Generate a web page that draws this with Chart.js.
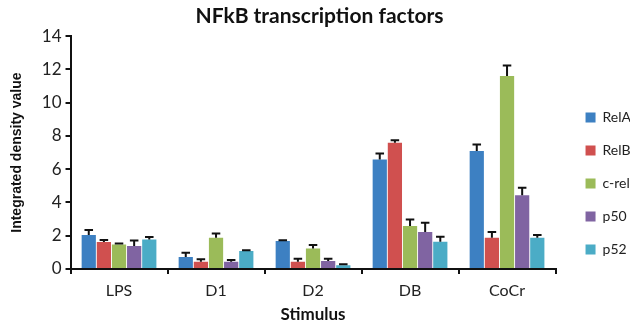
<!DOCTYPE html>
<html>
<head>
<meta charset="utf-8">
<script src="https://cdn.jsdelivr.net/npm/chart.js@4/dist/chart.umd.min.js"></script>
<style>
  html, body { margin: 0; padding: 0; background: #fff; }
</style>
</head>
<body>
<canvas id="myChart" width="630" height="323"></canvas>
<script>
var stimuli = ["LPS", "D1", "D2", "DB", "CoCr"];
var seriesNames = ["RelA", "RelB", "c-rel", "p50", "p52"];

// mean values per series (one per stimulus)
var relA = [2.04, 0.72, 1.68, 6.59, 7.09];
var relB = [1.62, 0.44, 0.44, 7.59, 1.88];
var cRel = [1.48, 1.88, 1.24, 2.58, 11.6];
var p50 = [1.38, 0.44, 0.48, 2.22, 4.43];
var p52 = [1.78, 1.08, 0.22, 1.64, 1.88];

// upper error (SD) per series
var relAErr = [0.31, 0.26, 0.05, 0.36, 0.40];
var relBErr = [0.13, 0.14, 0.18, 0.16, 0.34];
var cRelErr = [0.05, 0.26, 0.20, 0.40, 0.64];
var p50Err = [0.34, 0.10, 0.14, 0.56, 0.46];
var p52Err = [0.14, 0.05, 0.06, 0.30, 0.16];

var yTicks = [0, 2, 4, 6, 8, 10, 12, 14];

var barColors = ["#3d80c2", "#d0504f", "#9bbb59", "#8064a2", "#4bacc6"];
var values = [relA, relB, cRel, p50, p52];
var errors = [relAErr, relBErr, cRelErr, p50Err, p52Err];

var fontName = "Lato, 'Open Sans', sans-serif";

// upward error bars with a cap
var errorBars = {
    id: "errorBars",
    afterDatasetsDraw: function (chart) {
        var ctx = chart.ctx;
        var y = chart.scales.y;
        ctx.save();
        ctx.strokeStyle = "#111";
        ctx.lineWidth = 2;
        chart.data.datasets.forEach(function (ds, i) {
            var meta = chart.getDatasetMeta(i);
            meta.data.forEach(function (bar, j) {
                var top = y.getPixelForValue(ds.data[j] + ds.err[j]);
                var cap = bar.width * 0.3;
                ctx.beginPath();
                ctx.moveTo(bar.x, bar.y);
                ctx.lineTo(bar.x, top);
                ctx.moveTo(bar.x - cap, top);
                ctx.lineTo(bar.x + cap, top);
                ctx.stroke();
            });
        });
        ctx.restore();
    }
};

// nudge the legend to where it sits in the figure
var legendShift = {
    id: "legendShift",
    afterLayout: function (chart) {
        var lg = chart.legend;
        lg.left += 11; lg.right += 11;
        lg.top += 22; lg.bottom += 22;
    }
};

new Chart("myChart", {
    type: "bar",
    data: {
        labels: stimuli,
        datasets: seriesNames.map(function (name, i) {
            return {
                label: name,
                data: values[i],
                err: errors[i],
                backgroundColor: barColors[i],
                categoryPercentage: 0.78,
                barPercentage: 0.94
            };
        })
    },
    options: {
        responsive: false,
        animation: false,
        layout: { padding: { left: 9, right: 0, top: 0, bottom: 0 } },
        plugins: {
            title: {
                display: true,
                text: "NFkB transcription factors",
                font: { family: fontName, size: 21, weight: "bold" },
                color: "#111",
                padding: { top: 4, bottom: 7 }
            },
            legend: {
                position: "right",
                maxWidth: 78,
                labels: {
                    boxWidth: 10,
                    boxHeight: 10,
                    padding: 19,
                    color: "#222",
                    font: { family: fontName, size: 14 }
                }
            },
            tooltip: { enabled: false }
        },
        scales: {
            x: {
                border: { color: "#111", width: 2 },
                grid: { drawOnChartArea: false, color: "#111", tickLength: 5, lineWidth: 2 },
                ticks: { color: "#222", font: { family: fontName, size: 16, lineHeight: 1 }, padding: 9 },
                title: {
                    display: true,
                    text: "Stimulus",
                    color: "#111",
                    font: { family: fontName, size: 17, weight: "bold", lineHeight: 1 },
                    padding: { top: -2, bottom: 0 }
                }
            },
            y: {
                min: 0,
                max: 14,
                afterBuildTicks: function (axis) {
                    axis.ticks = yTicks.map(function (v) { return { value: v }; });
                },
                border: { color: "#111", width: 2 },
                grid: { drawOnChartArea: false, color: "#111", tickLength: 5, lineWidth: 2 },
                ticks: { color: "#222", font: { family: fontName, size: 17 }, padding: 4 },
                title: {
                    display: true,
                    text: "Integrated density value",
                    color: "#111",
                    font: { family: "'Liberation Sans', Arial, sans-serif", size: 14, weight: "bold" },
                    padding: { top: 0, bottom: 12 }
                }
            }
        }
    },
    plugins: [errorBars, legendShift]
});
</script>
</body>
</html>
